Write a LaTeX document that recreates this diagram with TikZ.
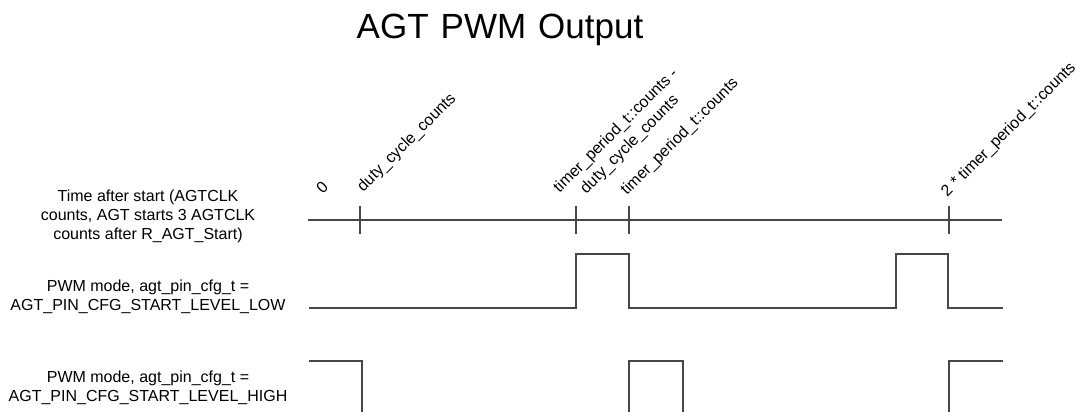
\documentclass[tikz,border=0pt]{standalone}
\usepackage{fontspec}
\setmainfont{Liberation Sans}
\begin{document}
\begin{tikzpicture}[x=1pt,y=-1pt,
  wave/.style={draw=black!72, line width=1.3pt, line join=miter},
  axisline/.style={draw=black!72, line width=1.3pt},
  sidelabel/.style={align=center, font=\fontsize{16}{19.2}\selectfont, inner sep=0pt},
  ticklabel/.style={align=center, font=\fontsize{16}{19.6}\selectfont, inner sep=0pt, rotate=45},
  titletext/.style={font=\fontsize{35}{42}\selectfont, inner sep=0pt, anchor=base}]
\useasboundingbox (0,0) rectangle (1077,412);
\clip (0,0) rectangle (1077,412);
% title
\node[titletext] (title) at (500,39) {AGT\hspace{12pt}PWM\hspace{12pt}Output};
% side labels
\node[sidelabel] (ltime) at (148,216.5) {Time after start (AGTCLK\\counts, AGT starts 3 AGTCLK\\counts after R\_AGT\_Start)};
\node[sidelabel] (llow) at (148,296.5) {PWM mode, agt\_pin\_cfg\_t =\\AGT\_PIN\_CFG\_START\_LEVEL\_LOW};
\node[sidelabel] (lhigh) at (148,388) {PWM mode, agt\_pin\_cfg\_t =\\AGT\_PIN\_CFG\_START\_LEVEL\_HIGH};
% time axis
\coordinate (ax0) at (308,220);
\coordinate (ax1) at (1002,220);
\draw[axisline] (ax0) -- (ax1);
\foreach \n/\x in {t1/360,t2/576,t3/629,t4/949}{
  \coordinate (\n a) at (\x,206);
  \coordinate (\n b) at (\x,234);
  \draw[axisline] (\n a) -- (\n b);
}
% tick labels
\node[ticklabel] (k0) at (322,187) {0};
\node[ticklabel] (k1) at (407,143) {duty\_cycle\_counts};
\node[ticklabel] (k2) at (623,138) {timer\_period\_t::counts -\\duty\_cycle\_counts};
\node[ticklabel] (k3) at (680,137) {timer\_period\_t::counts};
\node[ticklabel] (k4) at (1009,130) {2 * timer\_period\_t::counts};
% low start waveform
\coordinate (w0) at (309,308);
\coordinate (w1) at (1003,308);
\draw[wave] (w0) -- (576,308) -- (576,254) -- (629,254) -- (629,308) -- (896,308) -- (896,254) -- (948,254) -- (948,308) -- (w1);
% high start waveform
\coordinate (h0) at (309,361);
\coordinate (h1) at (1003,361);
\draw[wave] (h0) -- (362,361) -- (362,420);
\draw[wave] (629,420) -- (629,361) -- (683,361) -- (683,420);
\draw[wave] (949,420) -- (949,361) -- (h1);
\end{tikzpicture}
\end{document}
